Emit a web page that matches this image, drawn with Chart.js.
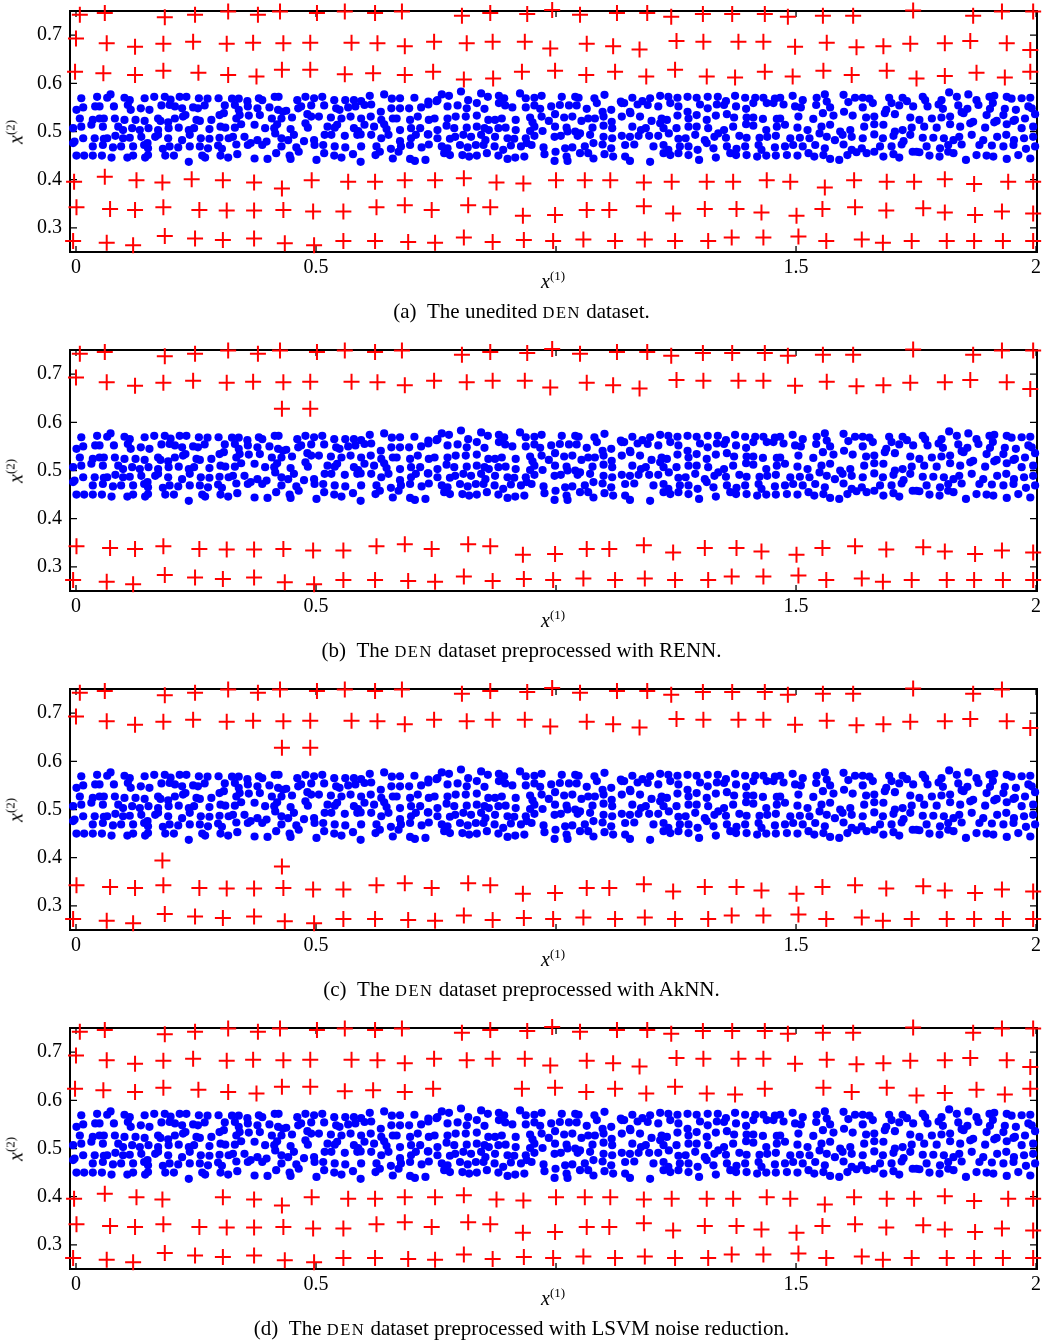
<!DOCTYPE html>
<html>
<head>
<meta charset="utf-8">
<script src="https://cdn.jsdelivr.net/npm/chart.js@4.4.1/dist/chart.umd.min.js"></script>
<style>
  body { margin: 0; background: #fff; }
  #page { position: relative; width: 1043px; height: 1343px; overflow: hidden;
          font-family: "Liberation Serif", "Times New Roman", serif; color: #000; }
  .panel { position: absolute; left: 0; width: 1043px; height: 339px; }
  .panel canvas { position: absolute; left: 0; top: 0; }
  .cap { position: absolute; left: 0; top: 299px; width: 1043px; text-align: center;
         font-size: 21px; line-height: 24px; white-space: nowrap; }
  .sc { font-size: 16.5px; letter-spacing: 1.5px; }
  .xt { position: absolute; left: 541px; top: 271px; font-size: 20px; line-height: 20px; white-space: nowrap; }
  .yt { position: absolute; left: 17px; top: 132px; font-size: 20px; line-height: 20px; white-space: nowrap;
        transform: translate(-50%, -50%) rotate(-90deg); }
  .xt sup, .yt sup { font-size: 13px; vertical-align: baseline; position: relative; top: -8px; }
</style>
</head>
<body>
<div id="page"></div>
<script>
// axis ticks
const xTicks = [0, 0.5, 1, 1.5, 2];
const xTickLabels = ['0', '0.5', '', '1.5', '2'];
const yTicks = [0.3, 0.4, 0.5, 0.6, 0.7];
const yTickLabels = ['0.3', '0.4', '0.5', '0.6', '0.7'];

const captions = [
  '(a)&ensp;The unedited <span class="sc">DEN</span> dataset.',
  '(b)&ensp;The <span class="sc">DEN</span> dataset preprocessed with RENN.',
  '(c)&ensp;The <span class="sc">DEN</span> dataset preprocessed with AkNN.',
  '(d)&ensp;The <span class="sc">DEN</span> dataset preprocessed with LSVM noise reduction.'
];

// class 1 (blue dots), same in every panel
const bluePoints = [
  [0.011,0.569],[0.044,0.572],[0.065,0.570],[0.072,0.577],[0.101,0.570],[0.112,0.565],[0.143,0.569],[0.163,0.572],[0.185,0.572],[0.197,0.566],
  [0.216,0.572],[0.230,0.572],[0.256,0.569],[0.274,0.568],[0.297,0.569],[0.325,0.568],[0.339,0.568],[0.357,0.563],[0.381,0.569],[0.388,0.565],
  [0.414,0.572],[0.422,0.572],[0.461,0.565],[0.478,0.572],[0.496,0.569],[0.513,0.572],[0.538,0.565],[0.561,0.565],[0.579,0.565],[0.594,0.563],
  [0.612,0.574],[0.642,0.577],[0.658,0.568],
  [0.001,0.545],[0.015,0.550],[0.040,0.552],[0.049,0.552],[0.079,0.552],[0.108,0.555],[0.114,0.545],[0.135,0.548],[0.153,0.545],[0.178,0.554],
  [0.195,0.555],[0.206,0.552],[0.221,0.548],[0.244,0.550],[0.254,0.548],[0.268,0.554],[0.310,0.554],[0.331,0.555],[0.339,0.545],[0.358,0.552],
  [0.378,0.548],[0.403,0.550],[0.421,0.545],[0.431,0.541],[0.438,0.543],[0.463,0.548],[0.469,0.552],[0.490,0.554],[0.517,0.554],[0.542,0.548],
  [0.549,0.545],[0.567,0.550],[0.582,0.552],[0.601,0.555],[0.615,0.556],[0.635,0.541],[0.657,0.548],
  [0.008,0.527],[0.035,0.524],[0.049,0.527],[0.058,0.527],[0.081,0.527],[0.101,0.524],[0.124,0.524],[0.143,0.522],[0.171,0.527],[0.176,0.522],
  [0.192,0.519],[0.206,0.527],[0.223,0.531],[0.228,0.534],[0.251,0.524],[0.258,0.522],[0.282,0.524],[0.299,0.534],[0.308,0.538],[0.334,0.527],
  [0.341,0.534],[0.360,0.533],[0.383,0.534],[0.408,0.527],[0.428,0.527],[0.450,0.529],[0.482,0.536],[0.490,0.531],[0.506,0.531],[0.531,0.529],
  [0.553,0.527],[0.572,0.531],[0.594,0.527],[0.614,0.531],[0.636,0.524],[0.660,0.527],
  [-0.006,0.507],[0.011,0.510],[0.032,0.514],[0.056,0.510],[0.088,0.510],[0.098,0.503],[0.117,0.507],[0.133,0.503],[0.151,0.507],[0.171,0.503],
  [0.193,0.507],[0.214,0.508],[0.235,0.503],[0.246,0.507],[0.278,0.505],[0.301,0.510],[0.311,0.508],[0.331,0.508],[0.344,0.515],[0.372,0.514],
  [0.394,0.507],[0.413,0.507],[0.419,0.515],[0.447,0.505],[0.478,0.517],[0.483,0.508],[0.524,0.510],[0.539,0.508],[0.544,0.514],[0.579,0.507],
  [0.588,0.501],[0.601,0.514],[0.621,0.510],[0.642,0.515],[0.647,0.505],
  [-0.003,0.479],[0.015,0.486],[0.039,0.486],[0.058,0.485],[0.065,0.486],[0.082,0.491],[0.098,0.486],[0.112,0.487],[0.136,0.489],[0.149,0.476],
  [0.165,0.489],[0.171,0.493],[0.192,0.486],[0.221,0.482],[0.237,0.493],[0.260,0.486],[0.278,0.485],[0.299,0.487],[0.318,0.486],[0.327,0.489],
  [0.351,0.489],[0.364,0.476],[0.378,0.482],[0.397,0.479],[0.415,0.496],[0.428,0.486],[0.442,0.482],[0.454,0.493],[0.475,0.480],[0.496,0.482],
  [0.518,0.493],[0.532,0.493],[0.560,0.491],[0.586,0.493],[0.593,0.494],[0.615,0.493],[0.636,0.486],[0.651,0.493],
  [-0.006,0.476],[0.035,0.469],[0.056,0.472],[0.077,0.467],[0.094,0.469],[0.119,0.469],[0.142,0.472],[0.150,0.465],[0.181,0.464],[0.195,0.469],
  [0.213,0.467],[0.237,0.469],[0.258,0.469],[0.275,0.465],[0.296,0.471],[0.304,0.464],[0.334,0.473],[0.358,0.472],[0.388,0.472],[0.428,0.469],
  [0.459,0.467],[0.497,0.472],[0.515,0.472],[0.539,0.469],[0.561,0.467],[0.594,0.469],[0.626,0.469],[0.656,0.464],
  [0.001,0.450],[0.017,0.450],[0.035,0.450],[0.054,0.450],[0.074,0.446],[0.107,0.446],[0.119,0.450],[0.144,0.446],[0.150,0.451],[0.186,0.450],
  [0.204,0.450],[0.235,0.437],[0.263,0.450],[0.269,0.446],[0.301,0.450],[0.317,0.446],[0.336,0.453],[0.372,0.444],[0.399,0.443],[0.417,0.455],
  [0.445,0.450],[0.447,0.443],[0.464,0.458],[0.501,0.441],[0.517,0.455],[0.538,0.450],[0.553,0.446],[0.577,0.453],[0.593,0.437],[0.624,0.451],
  [0.633,0.458],[0.660,0.444],
  // x 0.67 – 1.34
  [0.675,0.569],[0.705,0.570],[0.734,0.562],[0.751,0.563],[0.762,0.577],[0.777,0.574],[0.802,0.583],[0.817,0.565],[0.844,0.579],[0.858,0.572],
  [0.881,0.574],[0.892,0.569],[0.925,0.579],[0.937,0.569],[0.955,0.570],[0.970,0.574],[1.012,0.572],[1.040,0.572],[1.047,0.570],[1.080,0.569],
  [1.101,0.576],[1.135,0.562],[1.142,0.559],[1.159,0.570],[1.180,0.563],[1.196,0.569],[1.217,0.574],[1.234,0.572],[1.253,0.570],[1.274,0.572],
  [1.293,0.570],[1.316,0.572],[1.337,0.572],
  [0.675,0.548],[0.694,0.548],[0.719,0.550],[0.734,0.556],[0.753,0.565],[0.774,0.552],[0.795,0.554],[0.814,0.548],[0.835,0.559],[0.851,0.547],
  [0.881,0.559],[0.894,0.554],[0.909,0.550],[0.937,0.550],[0.955,0.554],[0.967,0.547],[0.990,0.552],[1.008,0.555],[1.027,0.554],[1.043,0.554],
  [1.064,0.547],[1.085,0.559],[1.097,0.541],[1.115,0.545],[1.137,0.559],[1.154,0.541],[1.170,0.556],[1.191,0.555],[1.213,0.552],[1.238,0.559],
  [1.255,0.552],[1.274,0.541],[1.300,0.556],[1.316,0.548],[1.335,0.556],
  [0.668,0.527],[0.696,0.524],[0.712,0.531],[0.735,0.524],[0.747,0.527],[0.774,0.527],[0.791,0.531],[0.812,0.531],[0.835,0.533],[0.859,0.524],
  [0.873,0.524],[0.887,0.527],[0.916,0.524],[0.946,0.529],[0.951,0.519],[0.970,0.531],[0.985,0.522],[0.998,0.536],[1.017,0.529],[1.034,0.531],
  [1.053,0.522],[1.067,0.527],[1.081,0.527],[1.099,0.531],[1.116,0.520],[1.137,0.531],[1.155,0.538],[1.175,0.531],[1.199,0.522],[1.220,0.527],
  [1.231,0.524],[1.253,0.533],[1.276,0.527],[1.293,0.534],[1.314,0.524],[1.333,0.533],
  [0.675,0.503],[0.698,0.507],[0.717,0.507],[0.734,0.494],[0.753,0.503],[0.772,0.512],[0.788,0.507],[0.814,0.508],[0.835,0.510],[0.851,0.507],
  [0.860,0.503],[0.880,0.507],[0.895,0.508],[0.916,0.503],[0.946,0.501],[0.955,0.510],[0.972,0.501],[0.998,0.510],[1.022,0.508],[1.040,0.500],
  [1.050,0.496],[1.076,0.508],[1.099,0.512],[1.117,0.507],[1.159,0.510],[1.177,0.503],[1.187,0.507],[1.217,0.517],[1.224,0.507],[1.251,0.507],
  [1.276,0.510],[1.293,0.510],[1.317,0.507],[1.338,0.496],
  [0.675,0.480],[0.698,0.486],[0.708,0.493],[0.733,0.494],[0.753,0.486],[0.779,0.485],[0.790,0.489],[0.807,0.493],[0.823,0.489],[0.844,0.493],
  [0.853,0.482],[0.873,0.489],[0.899,0.486],[0.913,0.485],[0.937,0.486],[0.955,0.491],[0.997,0.489],[1.010,0.491],[1.024,0.500],[1.045,0.491],
  [1.071,0.493],[1.099,0.489],[1.117,0.486],[1.137,0.491],[1.154,0.489],[1.172,0.491],[1.194,0.491],[1.213,0.491],[1.235,0.496],[1.255,0.485],
  [1.270,0.486],[1.290,0.493],[1.310,0.482],[1.330,0.489],
  [0.677,0.469],[0.696,0.472],[0.720,0.467],[0.735,0.473],[0.762,0.469],[0.774,0.465],[0.800,0.472],[0.816,0.467],[0.833,0.472],[0.849,0.472],
  [0.872,0.469],[0.890,0.462],[0.906,0.471],[0.927,0.469],[0.939,0.476],[0.949,0.472],[0.974,0.467],[0.999,0.458],[1.019,0.465],[1.034,0.467],
  [1.060,0.469],[1.078,0.476],[1.097,0.473],[1.115,0.465],[1.144,0.472],[1.163,0.473],[1.203,0.469],[1.224,0.472],[1.234,0.462],[1.258,0.469],
  [1.276,0.469],[1.295,0.462],[1.314,0.476],[1.328,0.465],
  [0.672,0.458],[0.696,0.443],[0.706,0.439],[0.728,0.441],[0.767,0.455],[0.779,0.451],[0.805,0.451],[0.819,0.448],[0.835,0.450],[0.856,0.455],
  [0.880,0.450],[0.899,0.443],[0.915,0.446],[0.934,0.448],[0.976,0.453],[0.997,0.439],[1.022,0.448],[1.024,0.439],[1.050,0.455],[1.067,0.455],
  [1.078,0.444],[1.101,0.453],[1.119,0.448],[1.144,0.448],[1.154,0.439],[1.196,0.437],[1.224,0.455],[1.238,0.451],[1.255,0.455],[1.276,0.451],
  [1.298,0.441],[1.333,0.446],
  // x 1.34 – 2
  [1.354,0.563],[1.373,0.574],[1.394,0.570],[1.415,0.570],[1.432,0.570],[1.456,0.568],[1.467,0.570],[1.493,0.574],[1.514,0.565],[1.543,0.570],
  [1.560,0.577],[1.599,0.576],[1.623,0.570],[1.639,0.570],[1.653,0.568],[1.694,0.570],[1.722,0.570],[1.731,0.563],[1.764,0.572],[1.769,0.565],
  [1.803,0.565],[1.819,0.581],[1.835,0.572],[1.859,0.577],[1.876,0.565],[1.903,0.572],[1.913,0.574],[1.939,0.572],[1.949,0.568],[1.970,0.569],
  [1.988,0.570],
  [1.350,0.555],[1.375,0.552],[1.396,0.547],[1.411,0.559],[1.439,0.559],[1.453,0.559],[1.474,0.556],[1.498,0.552],[1.510,0.550],[1.542,0.555],
  [1.564,0.562],[1.571,0.550],[1.609,0.561],[1.639,0.550],[1.660,0.559],[1.688,0.545],[1.699,0.559],[1.715,0.554],[1.744,0.552],[1.774,0.552],
  [1.797,0.556],[1.806,0.547],[1.838,0.554],[1.845,0.540],[1.857,0.547],[1.880,0.555],[1.904,0.547],[1.910,0.559],[1.935,0.547],[1.958,0.545],
  [1.984,0.552],[1.991,0.548],
  [1.356,0.536],[1.371,0.529],[1.397,0.529],[1.411,0.529],[1.431,0.526],[1.460,0.526],[1.467,0.527],[1.505,0.531],[1.536,0.526],[1.556,0.538],
  [1.578,0.533],[1.600,0.541],[1.618,0.533],[1.646,0.529],[1.663,0.531],[1.685,0.538],[1.706,0.536],[1.738,0.529],[1.757,0.524],[1.783,0.527],
  [1.803,0.529],[1.821,0.531],[1.849,0.538],[1.869,0.520],[1.897,0.534],[1.918,0.522],[1.932,0.534],[1.956,0.524],[1.977,0.527],[1.998,0.536],
  [1.350,0.503],[1.369,0.510],[1.396,0.515],[1.411,0.512],[1.438,0.503],[1.460,0.510],[1.477,0.514],[1.503,0.508],[1.524,0.503],[1.553,0.510],
  [1.571,0.514],[1.592,0.500],[1.613,0.503],[1.642,0.510],[1.663,0.515],[1.682,0.514],[1.706,0.500],[1.722,0.503],[1.741,0.508],[1.767,0.510],
  [1.793,0.508],[1.821,0.515],[1.842,0.510],[1.863,0.517],[1.894,0.508],[1.913,0.519],[1.939,0.515],[1.953,0.522],[1.970,0.507],[1.994,0.510],
  [1.354,0.487],[1.382,0.491],[1.397,0.487],[1.424,0.487],[1.440,0.489],[1.458,0.491],[1.488,0.486],[1.508,0.487],[1.528,0.486],[1.549,0.496],
  [1.564,0.489],[1.581,0.482],[1.597,0.493],[1.616,0.489],[1.639,0.486],[1.663,0.494],[1.681,0.486],[1.703,0.491],[1.724,0.480],[1.738,0.493],
  [1.764,0.487],[1.786,0.487],[1.808,0.486],[1.828,0.482],[1.840,0.489],[1.866,0.493],[1.890,0.482],[1.919,0.489],[1.938,0.493],[1.954,0.482],
  [1.975,0.486],[1.994,0.489],
  [1.356,0.469],[1.376,0.464],[1.394,0.469],[1.422,0.472],[1.428,0.462],[1.456,0.467],[1.477,0.469],[1.494,0.472],[1.514,0.469],[1.540,0.472],
  [1.560,0.465],[1.599,0.473],[1.616,0.462],[1.637,0.465],[1.675,0.469],[1.699,0.469],[1.720,0.473],[1.751,0.458],[1.772,0.469],[1.800,0.465],
  [1.817,0.472],[1.845,0.473],[1.882,0.472],[1.908,0.471],[1.932,0.469],[1.953,0.472],[1.979,0.464],[1.998,0.469],
  [1.363,0.455],[1.375,0.451],[1.397,0.451],[1.419,0.448],[1.438,0.450],[1.458,0.450],[1.481,0.451],[1.503,0.450],[1.526,0.455],[1.538,0.448],
  [1.557,0.451],[1.571,0.443],[1.590,0.441],[1.607,0.451],[1.626,0.457],[1.647,0.455],[1.663,0.458],[1.682,0.448],[1.703,0.453],[1.715,0.446],
  [1.743,0.458],[1.757,0.457],[1.778,0.450],[1.799,0.448],[1.817,0.458],[1.828,0.455],[1.854,0.441],[1.876,0.451],[1.897,0.450],[1.911,0.448],
  [1.939,0.443],[1.963,0.451],[1.988,0.444]
];

// class 2 (red crosses) of the unedited set, by row
const redTop = [
  [0.008,0.742],[0.060,0.746],[0.185,0.737],[0.248,0.742],[0.317,0.749],[0.379,0.742],[0.425,0.749],[0.502,0.746],[0.560,0.749],[0.623,0.746],
  [0.679,0.749],[0.804,0.740],[0.863,0.746],[0.940,0.744],[0.992,0.752],[1.050,0.742],[1.127,0.746],[1.190,0.746],[1.240,0.738],[1.306,0.744],
  [1.367,0.744],[1.435,0.744],[1.483,0.738],[1.556,0.740],[1.619,0.740],[1.744,0.751],[1.869,0.740],[1.929,0.749],[1.994,0.749]
];
const redUpper = [
  [0.000,0.693],[0.064,0.683],[0.123,0.676],[0.182,0.682],[0.244,0.686],[0.314,0.682],[0.369,0.684],[0.432,0.683],[0.488,0.684],[0.574,0.684],
  [0.628,0.683],[0.685,0.677],[0.746,0.686],[0.814,0.683],[0.868,0.686],[0.935,0.686],[0.988,0.672],[1.064,0.682],[1.119,0.677],[1.174,0.670],
  [1.251,0.688],[1.307,0.686],[1.380,0.686],[1.432,0.686],[1.498,0.676],[1.564,0.684],[1.626,0.675],[1.682,0.677],[1.738,0.682],[1.810,0.683],
  [1.863,0.688],[1.939,0.683],[1.988,0.669]
];
const redMidUpper = [
  [-0.002,0.624],[0.057,0.621],[0.123,0.617],[0.182,0.626],[0.255,0.622],[0.317,0.617],[0.376,0.614],[0.429,0.628],[0.488,0.628],[0.560,0.619],
  [0.619,0.621],[0.685,0.617],[0.744,0.624],[0.808,0.608],[0.869,0.610],[0.929,0.624],[0.998,0.626],[1.063,0.617],[1.123,0.624],[1.188,0.614],
  [1.248,0.628],[1.314,0.614],[1.373,0.612],[1.435,0.624],[1.493,0.614],[1.557,0.626],[1.616,0.617],[1.689,0.626],[1.751,0.610],[1.810,0.615],
  [1.876,0.622],[1.935,0.612],[1.988,0.624]
];
const redMidLower = [
  [-0.004,0.396],[0.060,0.406],[0.126,0.399],[0.180,0.394],[0.241,0.401],[0.306,0.399],[0.371,0.394],[0.429,0.382],[0.491,0.399],[0.567,0.396],
  [0.623,0.396],[0.685,0.399],[0.748,0.399],[0.808,0.403],[0.876,0.394],[0.932,0.392],[1.000,0.399],[1.060,0.399],[1.113,0.399],[1.183,0.394],
  [1.241,0.396],[1.314,0.396],[1.369,0.396],[1.439,0.399],[1.488,0.396],[1.560,0.384],[1.621,0.399],[1.689,0.396],[1.746,0.396],[1.810,0.401],
  [1.871,0.391],[1.942,0.396],[1.994,0.396]
];
const redLower = [
  [0.001,0.343],[0.071,0.339],[0.123,0.337],[0.182,0.343],[0.257,0.337],[0.314,0.336],[0.371,0.336],[0.432,0.337],[0.494,0.334],[0.557,0.334],
  [0.626,0.343],[0.685,0.347],[0.741,0.337],[0.817,0.347],[0.863,0.343],[0.931,0.325],[0.998,0.327],[1.064,0.337],[1.111,0.337],[1.183,0.345],
  [1.244,0.330],[1.310,0.339],[1.376,0.339],[1.428,0.332],[1.501,0.325],[1.555,0.339],[1.623,0.343],[1.688,0.336],[1.765,0.341],[1.810,0.332],
  [1.873,0.327],[1.929,0.334],[1.994,0.330]
];
const redBottom = [
  [-0.006,0.273],[0.064,0.269],[0.119,0.264],[0.185,0.283],[0.248,0.278],[0.306,0.275],[0.371,0.278],[0.435,0.268],[0.496,0.264],[0.557,0.273],
  [0.623,0.273],[0.692,0.271],[0.748,0.269],[0.808,0.280],[0.868,0.271],[0.933,0.275],[0.994,0.273],[1.057,0.276],[1.123,0.273],[1.185,0.276],
  [1.248,0.273],[1.317,0.273],[1.366,0.280],[1.432,0.280],[1.505,0.282],[1.563,0.273],[1.637,0.276],[1.681,0.269],[1.741,0.273],[1.814,0.273],
  [1.871,0.273],[1.931,0.273],[1.994,0.273]
];

// what the editing methods keep / drop from the two middle rows
const rennKept = [[0.429,0.628],[0.488,0.628]];
const aknnKept = [[0.429,0.628],[0.488,0.628],[0.180,0.394],[0.429,0.382]];
const aknnDropped = [[1.994,0.749]];
const lsvmDropped = [[0.808,0.608],[0.869,0.610],[1.493,0.614],[0.241,0.401]];

const same = (p, q) => p[0] === q[0] && p[1] === q[1];
const without = (list, drop) => list.filter(p => !drop.some(q => same(p, q)));

const redAll = [...redTop, ...redUpper, ...redMidUpper, ...redMidLower, ...redLower, ...redBottom];
const redSets = [
  redAll,
  [...redTop, ...redUpper, ...rennKept, ...redLower, ...redBottom],
  without([...redTop, ...redUpper, ...aknnKept, ...redLower, ...redBottom], aknnDropped),
  without(redAll, lsvmDropped)
];

// frame + inward ticks on all four sides
const framePlugin = {
  id: 'frame',
  beforeDatasetsDraw(chart) {
    const { ctx, chartArea: a, scales: { x, y } } = chart;
    ctx.save();
    ctx.strokeStyle = '#000';
    ctx.lineWidth = 2;
    ctx.strokeRect(a.left, a.top, a.right - a.left, a.bottom - a.top);
    ctx.lineWidth = 1.3;
    ctx.beginPath();
    x.ticks.forEach(t => {
      const px = x.getPixelForValue(t.value);
      ctx.moveTo(px, a.bottom); ctx.lineTo(px, a.bottom - 6);
      ctx.moveTo(px, a.top); ctx.lineTo(px, a.top + 6);
    });
    y.ticks.forEach(t => {
      const py = y.getPixelForValue(t.value);
      ctx.moveTo(a.left, py); ctx.lineTo(a.left + 7, py);
      ctx.moveTo(a.right, py); ctx.lineTo(a.right - 7, py);
    });
    ctx.stroke();
    ctx.restore();
  }
};

const tickFont = { family: 'Liberation Serif', size: 20 };
const toXY = list => list.map(p => ({ x: p[0], y: p[1] }));

function makeChart(canvas, red) {
  return new Chart(canvas, {
    type: 'scatter',
    data: {
      datasets: [
        { data: toXY(bluePoints), pointStyle: 'circle', pointRadius: 4.1, backgroundColor: '#0000ff', borderWidth: 0, clip: false },
        { data: toXY(red), pointStyle: 'cross', pointRadius: 8, borderColor: '#ff0000', borderWidth: 2, clip: false }
      ]
    },
    options: {
      responsive: false,
      animation: false,
      events: [],
      devicePixelRatio: 1,
      layout: { autoPadding: false, padding: { top: 11, right: 6, left: 0, bottom: 0 } },
      plugins: { legend: { display: false }, tooltip: { enabled: false } },
      scales: {
        x: {
          type: 'linear', min: -0.0125, max: 2.002,
          grid: { display: false, drawTicks: false },
          border: { display: false },
          afterBuildTicks: s => { s.ticks = xTicks.map(v => ({ value: v })); },
          afterFit: s => { s.height = 48; s.paddingLeft = 0; s.paddingRight = 0; },
          ticks: { autoSkip: false, maxRotation: 0, padding: 4, color: '#000', font: tickFont,
                   callback: (v, i) => xTickLabels[i] }
        },
        y: {
          type: 'linear', min: 0.25, max: 0.75,
          grid: { display: false, drawTicks: false },
          border: { display: false },
          afterBuildTicks: s => { s.ticks = yTicks.map(v => ({ value: v })); },
          afterFit: s => { s.width = 70; s.paddingTop = 0; s.paddingBottom = 0; },
          ticks: { autoSkip: false, padding: 8, color: '#000', font: tickFont,
                   callback: (v, i) => yTickLabels[i] }
        }
      }
    },
    plugins: [framePlugin]
  });
}

const page = document.getElementById('page');
captions.forEach((cap, i) => {
  const panel = document.createElement('div');
  panel.className = 'panel';
  panel.style.top = (i * 339) + 'px';
  panel.innerHTML =
    '<canvas width="1043" height="300"></canvas>' +
    '<div class="yt"><i>x</i><sup>(2)</sup></div>' +
    '<div class="xt"><i>x</i><sup>(1)</sup></div>' +
    '<div class="cap">' + cap + '</div>';
  page.appendChild(panel);
  makeChart(panel.querySelector('canvas'), redSets[i]);
});
</script>
</body>
</html>
